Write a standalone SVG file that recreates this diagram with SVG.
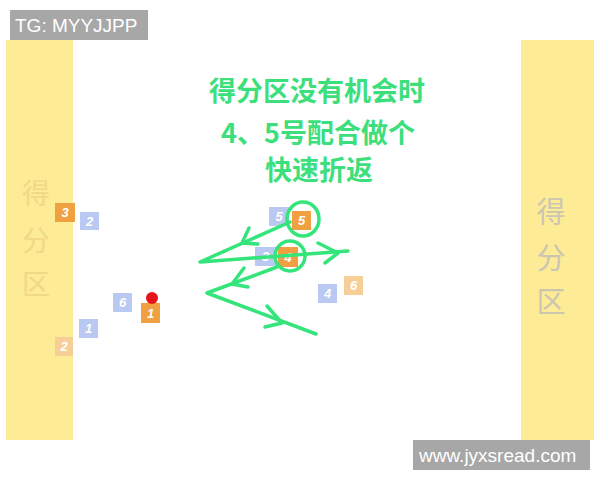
<svg xmlns="http://www.w3.org/2000/svg" width="600" height="480" viewBox="0 0 600 480">
<style>
.band{fill:#fdeb95}
.zl{font-family:"Noto Sans CJK SC","Noto Sans",sans-serif;font-size:28px;text-anchor:middle;fill:#f1d888}
.zr{font-family:"Noto Sans CJK SC","Noto Sans",sans-serif;font-size:29px;text-anchor:middle;fill:#cbc6b2}
.title{font-family:"Noto Sans CJK SC","Noto Sans",sans-serif;font-size:27px;font-weight:bold;text-anchor:middle;fill:#3ddf7c}
.or{fill:#f0a040}
.orf{fill:#f6cf98}
.bl{fill:#b9c9f2}
.num{font-family:"Liberation Sans",sans-serif;font-size:13px;font-weight:bold;font-style:italic;fill:#ffffff;text-anchor:middle}
.ln{fill:none;stroke:#33e57a;stroke-width:3.5;stroke-linecap:round;stroke-linejoin:round}
.wm{fill:#a7a7a7}
.wmt{font-family:"Liberation Sans",sans-serif;font-size:19px;fill:#ffffff}
</style>
<rect width="600" height="480" fill="#ffffff"/>
<g id="zone-left">
<rect class="band" x="6" y="40" width="67" height="400"/>
<text class="zl" x="36" y="204">得</text>
<text class="zl" x="36" y="251">分</text>
<text class="zl" x="36" y="295">区</text>
</g>
<g id="zone-right">
<rect class="band" x="521" y="40" width="73" height="400"/>
<text class="zr" x="551" y="223">得</text>
<text class="zr" x="551" y="269">分</text>
<text class="zr" x="551" y="313">区</text>
</g>
<g id="title">
<text class="title" x="317" y="101">得分区没有机会时</text>
<text class="title" x="318" y="143">4、5号配合做个</text>
<text class="title" x="319" y="180">快速折返</text>
</g>
<g id="o3"><rect class="or" x="55" y="203" width="20" height="19"/><text class="num" x="65" y="217">3</text></g>
<g id="b2"><rect class="bl" x="80" y="212" width="19" height="18"/><text class="num" x="89.5" y="226">2</text></g>
<g id="b1"><rect class="bl" x="79" y="319" width="19" height="19"/><text class="num" x="88.5" y="333">1</text></g>
<g id="o2"><rect class="orf" x="55" y="337" width="18" height="19"/><text class="num" x="64" y="351">2</text></g>
<g id="b6"><rect class="bl" x="113" y="293" width="19" height="19"/><text class="num" x="122.5" y="307">6</text></g>
<g id="o1"><rect class="or" x="141" y="303" width="19" height="20"/><text class="num" x="150.5" y="318">1</text><circle cx="152" cy="298" r="6" fill="#e8141c"/></g>
<g id="b5"><rect class="bl" x="269" y="207" width="20" height="19"/><text class="num" x="279" y="221">5</text></g>
<g id="o5"><rect class="or" x="292" y="211" width="19" height="19"/><text class="num" x="301.5" y="225">5</text></g>
<g id="b3"><rect class="bl" x="255" y="247" width="21" height="19"/><text class="num" x="265.5" y="261">3</text></g>
<g id="o4"><rect class="or" x="278" y="247" width="20" height="20"/><text class="num" x="288" y="262">4</text></g>
<g id="b4"><rect class="bl" x="318" y="284" width="19" height="19"/><text class="num" x="327.5" y="298">4</text></g>
<g id="o6"><rect class="orf" x="344" y="276" width="19" height="19"/><text class="num" x="353.5" y="290">6</text></g>
<g id="connectors">
<ellipse class="ln" cx="303" cy="219" rx="16" ry="17"/>
<ellipse class="ln" cx="290" cy="256" rx="15" ry="15"/>
<path class="ln" d="M290 222 L200 262 L348 251"/>
<path class="ln" d="M249 228 L242 243 L258 244"/>
<path class="ln" d="M318 243 L338 253 L325 263"/>
<path class="ln" d="M277 267 L207 293 L316 334"/>
<path class="ln" d="M244 268 L232 284 L248 287"/>
<path class="ln" d="M267 306 L282 323 L265 327"/>
</g>
<g id="watermarks">
<rect class="wm" x="10" y="10" width="138" height="30"/>
<text class="wmt" x="15" y="32">TG: MYYJJPP</text>
<rect class="wm" x="413" y="440" width="177" height="30"/>
<text class="wmt" x="419" y="462">www.jyxsread.com</text>
</g>
</svg>
